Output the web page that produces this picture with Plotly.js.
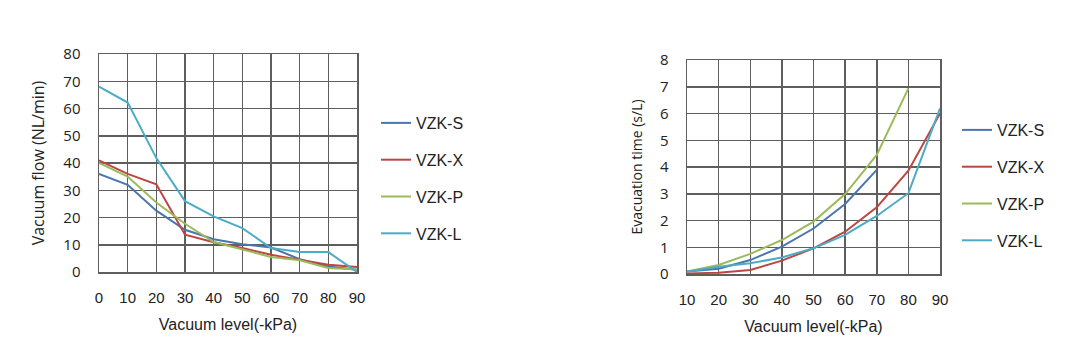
<!DOCTYPE html>
<html>
<head>
<meta charset="utf-8">
<script src="https://cdn.plot.ly/plotly-3.0.1.min.js"></script>
<style>html,body{margin:0;padding:0;background:#fff;}#chart{width:1091px;height:363px;}</style>
</head>
<body>
<div id="chart"></div>
<script>
// Chart 1: vacuum flow vs vacuum level
const flowLevels = [0, 10, 20, 30, 40, 50, 60, 70, 80, 90];
const flowS = [36, 32, 22.5, 15.5, 12, 10.2, 9, 4.7, 2, 0.8];
const flowX = [41, 36, 32.2, 13.7, 10.9, 8.8, 6.3, 4.5, 2.7, 1.8];
const flowP = [40, 35, 25.5, 17.7, 11, 8.2, 5.5, 4.3, 1.5, 0.9];
const flowL = [68, 62.2, 41.8, 26, 20.4, 16.1, 8.8, 7.3, 7.3, 0];

// Chart 2: evacuation time vs vacuum level
const evacLevels = [10, 20, 30, 40, 50, 60, 70, 80, 90];
const evacS = [0.09, 0.2, 0.52, 1.02, 1.7, 2.62, 3.89, null, null];
const evacX = [0.02, 0.05, 0.15, 0.5, 0.96, 1.58, 2.49, 3.86, 6.0];
const evacP = [0.09, 0.34, 0.75, 1.27, 1.96, 2.99, 4.45, 6.94, null];
const evacL = [0.09, 0.27, 0.4, 0.62, 0.96, 1.46, 2.17, 3.02, 6.19];

const seriesNames = ["VZK-S", "VZK-X", "VZK-P", "VZK-L"];
const seriesColors = ["#4a76ad", "#bc4642", "#9bbb59", "#4bacc6"];

const W = 1091, H = 363;
const px = v => v / W;
const py = v => 1 - v / H;

const traces = [];
[flowS, flowX, flowP, flowL].forEach((ys, i) => {
  traces.push({
    x: flowLevels, y: ys, type: "scatter", mode: "lines",
    name: seriesNames[i], line: {color: seriesColors[i], width: 2},
    xaxis: "x", yaxis: "y", legend: "legend", legendgroup: "a" + i
  });
});
[evacS, evacX, evacP, evacL].forEach((ys, i) => {
  traces.push({
    x: evacLevels, y: ys, type: "scatter", mode: "lines",
    name: seriesNames[i], line: {color: seriesColors[i], width: 2},
    xaxis: "x2", yaxis: "y2", legend: "legend2", legendgroup: "b" + i
  });
});

const gridColor = "#5e5e5e";
const tickFont = {family: "Open Sans, sans-serif", size: 15, color: "#222"};
const xTickFont = {family: "Liberation Sans, Arial, sans-serif", size: 15, color: "#222"};
const xTitleFont = {family: "Liberation Sans, Arial, sans-serif", size: 16, color: "#222"};

function xAxis(domain, range, anchor) {
  return {
    domain: domain, range: range, anchor: anchor,
    tickmode: "linear", dtick: 10, tick0: 0,
    showgrid: true, gridcolor: gridColor, gridwidth: 1.5,
    showline: true, linecolor: gridColor, linewidth: 1.5, mirror: true,
    zeroline: false, ticks: "outside", ticklen: 11, tickcolor: "rgba(0,0,0,0)",
    tickfont: xTickFont,
    title: {text: "Vacuum level(-kPa)", font: xTitleFont, standoff: 14}
  };
}
function yAxis(domain, range, dtick, title, anchor, size) {
  return {
    domain: domain, range: range, anchor: anchor, dtick: dtick, tick0: 0, tickmode: "linear",
    showgrid: true, gridcolor: gridColor, gridwidth: 1.5,
    showline: true, linecolor: gridColor, linewidth: 1.5, mirror: true,
    zeroline: false, ticks: "outside", ticklen: 14, tickcolor: "rgba(0,0,0,0)",
    tickfont: tickFont,
    title: {text: title, font: {family: "Open Sans, sans-serif", size: size, color: "#222"}, standoff: 14}
  };
}

const legendFont = {family: "Liberation Sans, Arial, sans-serif", size: 16, color: "#222"};

const layout = {
  width: W, height: H,
  margin: {l: 0, r: 0, t: 0, b: 0},
  paper_bgcolor: "#fff", plot_bgcolor: "#fff",
  showlegend: true,
  xaxis: xAxis([px(99), px(357)], [0, 90], "y"),
  yaxis: yAxis([py(272), py(54)], [0, 80], 10, "Vacuum flow (NL/min)", "x", 16),
  xaxis2: xAxis([px(687), px(940)], [10, 90], "y2"),
  yaxis2: yAxis([py(274), py(60)], [0, 8], 1, "Evacuation time (s/L)", "x2", 14),
  legend: {
    x: px(376), y: py(106), xanchor: "left", yanchor: "top",
    font: legendFont, tracegroupgap: 13, traceorder: "grouped",
    bgcolor: "rgba(0,0,0,0)"
  },
  legend2: {
    x: px(957), y: py(113), xanchor: "left", yanchor: "top",
    font: legendFont, tracegroupgap: 13, traceorder: "grouped",
    bgcolor: "rgba(0,0,0,0)"
  }
};

Plotly.newPlot("chart", traces, layout, {displayModeBar: false, staticPlot: true});
</script>
</body>
</html>
